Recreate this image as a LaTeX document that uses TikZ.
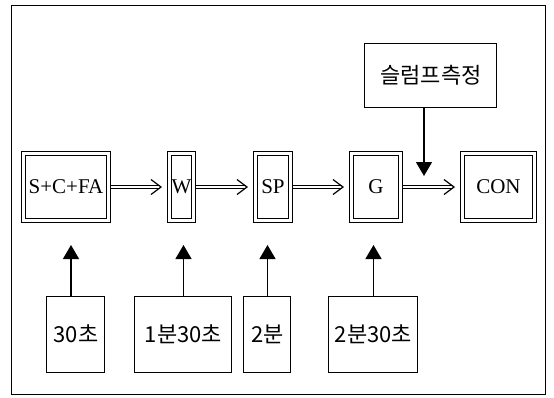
\documentclass[tikz,border=0pt]{standalone}
\usepackage{fontspec}
\setmainfont{Liberation Serif}
\newfontfamily\kr{Noto Sans CJK KR}
\usetikzlibrary{arrows.meta}
\begin{document}
\begin{tikzpicture}[x=0.5pt, y=-0.5pt, >={Triangle[length=7pt,width=8pt]}]
\tikzset{mbox/.style={draw, double, double distance=1.5pt, line width=0.5pt, rectangle, inner sep=0, outer sep=1.25pt, minimum height=33.5pt, font=\fontsize{10.5}{12}\selectfont},
tbox/.style={draw, rectangle, line width=0.5pt, inner sep=0, minimum height=38pt, font=\kr\fontsize{11}{13}\selectfont},
dlink/.style={double, double distance=1pt, line width=0.4pt, shorten >=2.5pt, -{Straight Barb[length=5pt,width=7.5pt,line width=0.6pt]}},
uplink/.style={line width=0.7pt, ->}}
\useasboundingbox (0,0) rectangle (554,398);
\draw[line width=0.5pt] (12,5) rectangle (546,394);
%% coordinate grid
\def \ymain {187}
\def \ytime {334}
\def \ytip {245}

%% mixing steps
\node[mbox, minimum width=42.5pt] (scfa) at (66,\ymain) {S+C+FA};
\node[mbox, minimum width=12pt] (w) at (181.5,\ymain) {W};
\node[mbox, minimum width=17.5pt] (sp) at (273,\ymain) {SP};
\node[mbox, minimum width=24.5pt] (g) at (376,\ymain) {G};
\node[mbox, minimum width=36pt] (con) at (498.5,\ymain) {CON};
% paths
\draw[dlink] (scfa.east) -- (w.west);
\draw[dlink] (w.east) -- (sp.west);
\draw[dlink] (sp.east) -- (g.west);
\draw[dlink] (g.east) -- (con.west);

%% slump test
\node[tbox, minimum width=66pt, minimum height=32pt] (slump) at (431,75) {슬럼프측정};
\coordinate (meas) at (424,176);
\draw[uplink] (slump.south -| meas) -- (meas);

%% mixing times
\node[tbox, minimum width=29pt] (t30) at (76,\ytime) {30초};
\node[tbox, minimum width=48.5pt] (t130) at (183.5,\ytime) {1분30초};
\node[tbox, minimum width=23.5pt] (t2) at (267.5,\ytime) {2분};
\node[tbox, minimum width=44.5pt] (t230) at (373.5,\ytime) {2분30초};
\coordinate (uptip) at (0,\ytip);
% paths
\draw[uplink] ([xshift=-2.5pt]t30.north) -- ([xshift=-2.5pt]t30.north |- uptip);
\draw[uplink] (t130.north) -- (t130.north |- uptip);
\draw[uplink] (t2.north) -- (t2.north |- uptip);
\draw[uplink] (t230.north) -- (t230.north |- uptip);
\end{tikzpicture}
\end{document}
